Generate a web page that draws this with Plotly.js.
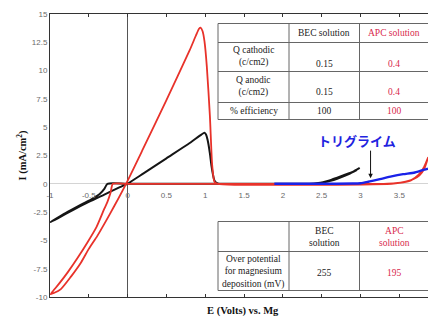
<!DOCTYPE html>
<html><head><meta charset="utf-8">
<script src="https://cdn.plot.ly/plotly-3.0.1.min.js"></script>
<style>html,body{margin:0;padding:0;background:#fff}#chart{width:428px;height:318px}</style>
</head><body><div id="chart"></div>
<script>
// BEC solution (black)
const becX = [2.95,2.85,2.7,2.55,2.4,2.2,1.2,0,-0.26,-0.3,-0.36,-0.45,-0.6,-0.8,-1.0,
  -0.9,-0.7,-0.5,-0.3,-0.1,0,0.2,0.5,0.8,0.95,0.99,1.01,1.03,1.06,1.08,1.1,1.12,1.16,1.25,2.35,2.45,2.6,2.7,2.8,2.9,2.99];
const becY = [1.2,0.85,0.45,0.15,0.02,0,0,0,0,-0.45,-0.9,-1.3,-1.85,-2.6,-3.4,
  -3.05,-2.3,-1.6,-0.95,-0.3,0.02,0.9,2.25,3.6,4.35,4.5,4.35,3.9,2.7,1.6,0.8,0.27,0.03,0,0,0.05,0.3,0.55,0.8,1.05,1.4];
// APC solution (red)
const apcX = [3.87,3.82,3.76,3.68,3.58,3.45,3.3,2.0,0,-0.19,-0.22,-0.26,-0.3,-0.4,-0.52,-0.65,-0.77,-0.88,-0.97,-0.99,
  -0.95,-0.86,-0.73,-0.6,-0.5,-0.39,-0.28,-0.17,-0.02,0.2,0.5,0.8,0.88,0.92,0.94,0.965,0.99,1.02,1.06,1.09,1.12,1.16,3.4,3.55,3.65,3.75,3.82,3.87];
const apcY = [2.3,1.3,0.75,0.4,0.2,0.05,0,0,0,0,-0.8,-1.6,-2.2,-3.8,-5.2,-6.6,-7.8,-8.8,-9.55,-9.75,
  -9.65,-9.3,-8.2,-6.95,-5.75,-4.6,-3.3,-1.94,0,3.1,7.4,11.8,13.1,13.7,13.8,13.5,12.6,10.4,6.0,1.6,0.15,0,0,0.12,0.3,0.8,1.5,2.3];
// Triglyme (blue)
const triX = [1.89,2.5,2.9,3.0,3.1,3.25,3.4,3.55,3.7,3.85,3.87];
const triY = [0,0,0.02,0.05,0.18,0.41,0.65,0.85,1.0,1.3,1.34];

const xTickVals = [-1,-0.5,0,0.5,1,1.5,2,2.5,3,3.5];
const xTickText = ['-1','-0.5','0','0.5','1','1.5','2','2.5','3','3.5'];
const yTickVals = [-10,-7.5,-5,-2.5,0,2.5,5,7.5,10,12.5,15];
const yTickText = ['-10','-7.5','-5','-2.5','0','2.5','5','7.5','10','12.5','15'];

const topHeader = ['', 'BEC solution', 'APC solution'];
const topRows = [['Q cathodic<br>(c/cm2)','0.15','0.4'],['Q anodic<br>(c/cm2)','0.15','0.4'],['% efficiency','100','100']];
const bottomHeader = ['', 'BEC<br>solution', 'APC<br>solution'];
const bottomRows = [['Over potential<br>for magnesium<br>deposition (mV)','255','195']];
const labelText = 'トリグライム';

const L=50, T=14, W=378, H=283;
const PX = v => (v-L)/W;
const PY = v => (T+H-v)/H;
const serif = '"Liberation Serif", "Times New Roman", serif';
const colColors = ['#222','#222','#d8284c'];

const shapes = [];
const annotations = [];
function table(cols, rows, header, body, valueY, labelY){
  shapes.push({type:'rect',xref:'paper',yref:'paper',x0:PX(cols[0]),x1:PX(cols[3]),y0:PY(rows[rows.length-1]),y1:PY(rows[0]),
    line:{color:'#666',width:1},fillcolor:'#fff',layer:'above'});
  for(let i=1;i<rows.length-1;i++) shapes.push({type:'line',xref:'paper',yref:'paper',x0:PX(cols[0]),x1:PX(cols[3]),y0:PY(rows[i]),y1:PY(rows[i]),line:{color:'#666',width:1},layer:'above'});
  for(let j=1;j<3;j++) shapes.push({type:'line',xref:'paper',yref:'paper',x0:PX(cols[j]),x1:PX(cols[j]),y0:PY(rows[rows.length-1]),y1:PY(rows[0]),line:{color:'#666',width:1},layer:'above'});
  const centers=[(cols[0]+cols[1])/2,(cols[1]+cols[2])/2,394];
  for(let j=1;j<3;j++) annotations.push({xref:'paper',yref:'paper',x:PX(centers[j]),y:PY((rows[0]+rows[1])/2),text:header[j],showarrow:false,
    font:{family:serif,size:9.5,color:colColors[j]},xanchor:'center',yanchor:'middle'});
  body.forEach((r,i)=>{
    annotations.push({xref:'paper',yref:'paper',x:PX(centers[0]),y:PY(labelY[i]),text:r[0],showarrow:false,align:'center',
      font:{family:serif,size:9.5,color:'#222'},xanchor:'center',yanchor:'middle'});
    for(let j=1;j<3;j++) annotations.push({xref:'paper',yref:'paper',x:PX(centers[j]),y:PY(valueY[i]),text:r[j],showarrow:false,
      font:{family:serif,size:9.5,color:colColors[j]},xanchor:'center',yanchor:'middle'});
  });
}
table([218,289,359.5,436],[23.5,42.5,71.5,102.5,119.5],topHeader,topRows,[63.5,92.5,110.5],[57,86.5,110.5]);
table([218,289,359.5,436],[221.5,251.5,290.5],bottomHeader,bottomRows,[273],[271.5]);

annotations.push({xref:'x',yref:'y',x:3.13,y:0.5,ax:0,ay:-29,text:'',showarrow:true,arrowhead:2,arrowsize:0.9,arrowwidth:1,arrowcolor:'#111'});
annotations.push({xref:'paper',yref:'paper',x:PX(357),y:PY(140),text:'<b>'+labelText+'</b>',showarrow:false,
  font:{family:'Noto Sans CJK JP',size:13,color:'#1f24e0'},xanchor:'center',yanchor:'middle'});
annotations.push({xref:'paper',yref:'paper',x:PX(21),y:0.5,text:'<b>I (mA/cm<sup>2</sup>)</b>',textangle:-90,showarrow:false,
  font:{family:serif,size:10.5,color:'#111'},xanchor:'center',yanchor:'middle'});
annotations.push({xref:'paper',yref:'paper',x:PX(243),y:PY(311),text:'<b>E (Volts) vs. Mg</b>',showarrow:false,
  font:{family:serif,size:10.5,color:'#111'},xanchor:'center',yanchor:'middle'});

const xr=[-1,3.87], yr=[-10,15];
const traces = [
  {x:becX,y:becY,type:'scatter',mode:'lines',line:{color:'#151515',width:2,shape:'spline',smoothing:0.6},hoverinfo:'skip'},
  {x:apcX,y:apcY,type:'scatter',mode:'lines',line:{color:'#e8322a',width:1.8,shape:'spline',smoothing:0.6},hoverinfo:'skip'},
  {x:triX,y:triY,xaxis:'x2',type:'scatter',mode:'lines',line:{color:'#1a22e8',width:2.4,shape:'spline',smoothing:0.6},hoverinfo:'skip'}
];
const tickFont={family:'"Liberation Sans", Arial, sans-serif',size:8,color:'#6a6a6a'};
const layout = {
  width:428,height:318,margin:{l:L,r:0,t:T,b:318-T-H},paper_bgcolor:'#fff',plot_bgcolor:'#fff',showlegend:false,
  xaxis:{range:xr,showline:true,linecolor:'#333',linewidth:1,mirror:'ticks',ticks:'inside',ticklen:3,tickcolor:'#333',
    tick0:0,dtick:0.5,showticklabels:false,showgrid:false,zeroline:true,zerolinecolor:'#555',zerolinewidth:1.2,fixedrange:true},
  xaxis2:{range:xr,overlaying:'x',anchor:'free',position:0.4,showline:false,ticks:'',showgrid:false,zeroline:false,
    tickmode:'array',tickvals:xTickVals,ticktext:xTickText,tickfont:tickFont,ticklabelstandoff:5,fixedrange:true},
  yaxis:{range:yr,showline:true,linecolor:'#333',linewidth:1,ticks:'',showgrid:false,zeroline:true,zerolinecolor:'#d4d4d4',zerolinewidth:1,
    tickmode:'array',tickvals:yTickVals,ticktext:yTickText,tickfont:tickFont,fixedrange:true},
  shapes:shapes,annotations:annotations
};
Plotly.newPlot('chart',traces,layout,{staticPlot:true,displayModeBar:false});
</script></body></html>
